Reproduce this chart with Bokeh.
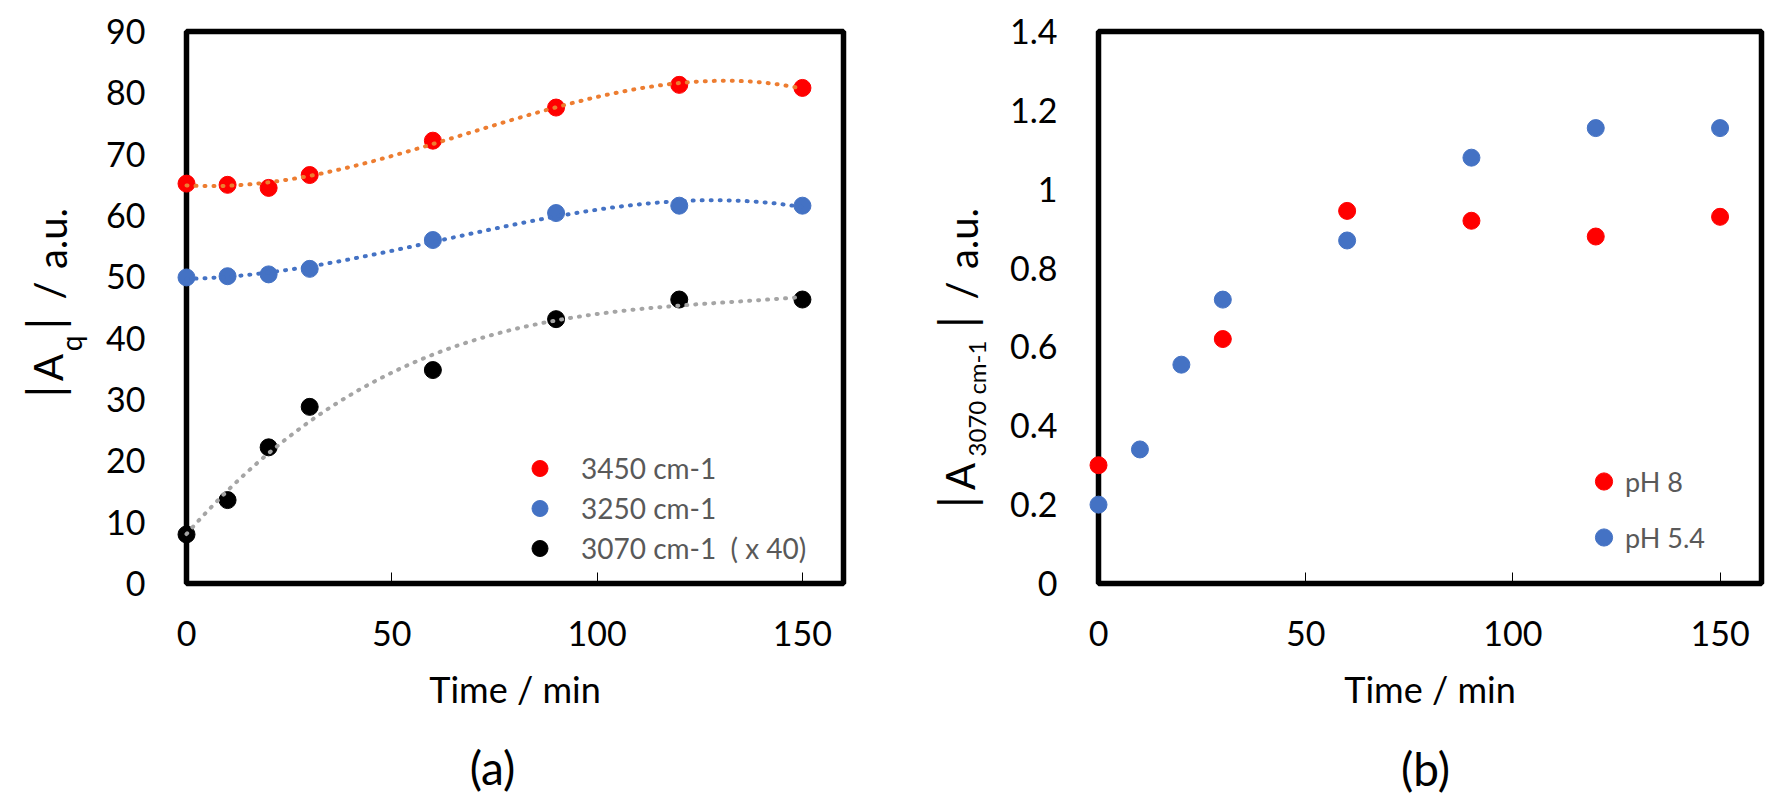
"""Two-panel figure: band intensities vs time (a) and 3070 cm-1 band at two pH (b)."""
from math import pi

import numpy as np
from bokeh.embed import file_html
from bokeh.layouts import column, row
from bokeh.models import FixedTicker, Label, Legend, LegendItem, Range1d
from bokeh.plotting import figure
from bokeh.resources import INLINE

FONT = "Lato"
RED = "#ff0000"
BLUE = "#4472c4"
BLACK = "#000000"
ORANGE_FIT = "#ed7d31"
BLUE_FIT = "#4472c4"
GRAY_FIT = "#a5a5a5"
LEGEND_GRAY = "#595959"

# (a) |Aq| of the three bands vs time
time_a = [0, 10, 20, 30, 60, 90, 120, 150]
band_3450 = [65.2, 65.0, 64.5, 66.6, 72.2, 77.6, 81.3, 80.8]
band_3250 = [49.9, 50.1, 50.4, 51.3, 56.0, 60.4, 61.6, 61.6]
band_3070_x40 = [8.0, 13.6, 22.2, 28.8, 34.8, 43.1, 46.3, 46.3]
labels_a = ["3450 cm-1", "3250 cm-1", "3070 cm-1  ( x 40)"]

# (b) |A 3070 cm-1| at two pH values
time_ph8 = [0, 30, 60, 90, 120, 150]
a3070_ph8 = [0.30, 0.62, 0.945, 0.92, 0.88, 0.93]
time_ph54 = [0, 10, 20, 30, 60, 90, 120, 150]
a3070_ph54 = [0.20, 0.34, 0.555, 0.72, 0.87, 1.08, 1.155, 1.155]
labels_b = ["pH 8", "pH 5.4"]

x_ticks = [0, 50, 100, 150]
y_ticks_a = [0, 10, 20, 30, 40, 50, 60, 70, 80, 90]
y_ticks_b = [0, 0.2, 0.4, 0.6, 0.8, 1, 1.2, 1.4]
y_tick_labels_b = ["0", "0.2", "0.4", "0.6", "0.8", "1", "1.2", "1.4"]
captions = ["(a)", "(b)"]

X_MAX = 160
PAGE_W = 1774
PAGE_H = 803
HEIGHT = 745          # plot row; the captions sit in a strip below it
TOP = 31
FRAME_H = 552
BOTTOM = HEIGHT - TOP - FRAME_H


def panel(width, y_max, y_ticks, border_left, border_right):
    p = figure(
        width=width, height=HEIGHT, x_range=Range1d(0, X_MAX), y_range=Range1d(0, y_max),
        output_backend="svg", toolbar_location=None,
        min_border_left=border_left, min_border_right=border_right,
        min_border_top=TOP, min_border_bottom=BOTTOM,
        background_fill_color="white", border_fill_color="white",
        outline_line_color="black", outline_line_width=5.5,
    )
    p.grid.visible = False
    p.xaxis.ticker = FixedTicker(ticks=x_ticks)
    p.yaxis.ticker = FixedTicker(ticks=y_ticks)
    for ax in (p.xaxis, p.yaxis):
        ax.axis_line_color = None
        ax.minor_tick_line_color = None
        ax.major_label_text_font = FONT
        ax.major_label_text_font_size = "34px"
        ax.major_label_text_color = "black"
    p.xaxis.major_tick_in = 11
    p.xaxis.major_tick_out = 0
    p.xaxis.major_tick_line_width = 1
    p.xaxis.major_tick_line_color = "black"
    p.xaxis.major_label_standoff = 37
    p.yaxis.major_tick_line_color = None
    p.yaxis.major_label_standoff = 35
    p.xaxis.axis_label = "Time / min"
    p.xaxis.axis_label_text_font = FONT
    p.xaxis.axis_label_text_font_size = "36px"
    p.xaxis.axis_label_text_font_style = "normal"
    p.xaxis.axis_label_text_color = "black"
    p.xaxis.axis_label_standoff = 18
    return p


def blank(width, height, borders=(0, 0)):
    """Axis-less figure whose data units are pixels from its frame's bottom-left."""
    top, bottom = borders
    s = figure(
        width=width, height=height, x_range=Range1d(0, width),
        y_range=Range1d(0, height - top - bottom),
        x_axis_type=None, y_axis_type=None, output_backend="svg",
        toolbar_location=None, min_border_left=0, min_border_right=0,
        min_border_top=top, min_border_bottom=bottom, outline_line_color=None,
        background_fill_color="white", border_fill_color="white",
    )
    s.grid.visible = False
    return s


def rotated(s, text, cx, cy, size, font=FONT):
    """Centre of the rotated text: cx in the strip, cy from the top of the page."""
    s.add_layout(Label(
        x=cx, y=TOP + FRAME_H - cy, text=text, angle=pi / 2, text_align="center",
        text_baseline="middle", text_font=font, text_font_size=size,
        text_color="black",
    ))


def make_legend(items, location, glyph_h, standoff, size):
    return Legend(
        items=items, location=location, orientation="vertical",
        glyph_width=43, glyph_height=glyph_h, label_height=glyph_h,
        spacing=0, padding=0, margin=0, label_standoff=standoff,
        label_text_font=FONT, label_text_font_size=size,
        label_text_color=LEGEND_GRAY, border_line_color=None,
        background_fill_alpha=0,
    )


# ---------------------------------------------------------------- panel (a)
STRIP_A = 100
FRAME_W_A = 657
pa = panel(780, 90, y_ticks_a, 186 - STRIP_A, 780 - (186 - STRIP_A) - FRAME_W_A)

fit_t = np.linspace(time_a[0], time_a[-1], 300)
series_a = [
    (band_3450, RED, ORANGE_FIT),
    (band_3250, BLUE, BLUE_FIT),
    (band_3070_x40, BLACK, GRAY_FIT),
]
items_a = []
for (vals, color, fit_color), label in zip(series_a, labels_a):
    r = pa.scatter(time_a, vals, size=17, color=color, level="overlay")
    items_a.append(LegendItem(label=label, renderers=[r]))
# dotted 3rd-order polynomial trendlines, drawn over the markers
for vals, color, fit_color in series_a:
    coef = np.polyfit(time_a, vals, 3)
    pa.line(fit_t, np.polyval(coef, fit_t), line_color=fit_color, line_width=4,
            line_dash="1 8", line_cap="round", level="overlay")
pa.add_layout(make_legend(items_a, (332, 15), 40, 20, "28px"))

sa = blank(STRIP_A, HEIGHT, (TOP, BOTTOM))
rotated(sa, "|", 41, 391, "46px", "Open Sans")
rotated(sa, "A", 47, 367, "40px")
rotated(sa, "q", 70, 343, "28px")
rotated(sa, "|", 41, 323, "46px", "Open Sans")
rotated(sa, "/", 48, 290, "40px")
rotated(sa, "a.u.", 51, 238, "40px")

# ---------------------------------------------------------------- panel (b)
STRIP_B = 110
FRAME_W_B = 663
B_LEFT = 880 + STRIP_B
pb = panel(PAGE_W - B_LEFT, 1.4, y_ticks_b, 1098 - B_LEFT, PAGE_W - 1098 - FRAME_W_B)
pb.yaxis.major_label_overrides = dict(zip(y_ticks_b, y_tick_labels_b))

r8 = pb.scatter(time_ph8, a3070_ph8, size=17, color=RED, level="overlay")
r54 = pb.scatter(time_ph54, a3070_ph54, size=17, color=BLUE, level="overlay")
items_b = [LegendItem(label=labels_b[0], renderers=[r8]),
           LegendItem(label=labels_b[1], renderers=[r54])]
pb.add_layout(make_legend(items_b, (484, 18), 56, 0, "27px"))

sb = blank(STRIP_B, HEIGHT, (TOP, BOTTOM))
rotated(sb, "|", 953 - 880, 501.7, "46px", "Open Sans")
rotated(sb, "A", 959 - 880, 476, "40px")
rotated(sb, "3070 cm-1", 976 - 880, 398, "24px")
rotated(sb, "|", 953 - 880, 321.7, "46px", "Open Sans")
rotated(sb, "/", 960 - 880, 290, "40px")
rotated(sb, "a.u.", 962 - 880, 238, "40px")

# ---------------------------------------------------------------- captions
cap_h = PAGE_H - HEIGHT
cap = blank(PAGE_W, cap_h)
for text, cx, cy in zip(captions, [492, 1425], [767, 768]):
    cap.add_layout(Label(
        x=cx, y=PAGE_H - cy, text=text, text_align="center", text_baseline="middle",
        text_font=FONT, text_font_size="46px", text_color="black",
    ))

layout = column(row(sa, pa, sb, pb), cap)
open("out.html", "w").write(file_html(layout, INLINE))
